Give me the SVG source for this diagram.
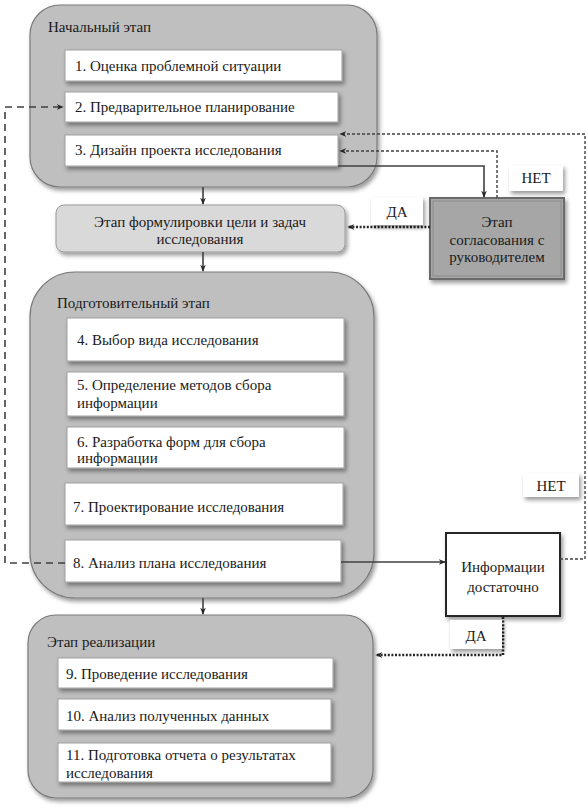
<svg xmlns="http://www.w3.org/2000/svg" width="588" height="811" viewBox="0 0 588 811">
<style>
text{font-family:"Liberation Serif","Times New Roman",serif;font-size:15px;fill:#1a1a1a}
.c{text-anchor:middle}
.grp{fill:#bfbfbf;stroke:#7a7a7a;stroke-width:1.2}
.box{fill:#fff;stroke:#a0a0a0;stroke-width:1}
.lbl{fill:#fff;stroke:none}
.ln{fill:none;stroke:#404040;stroke-width:1.6}
.dash1{fill:none;stroke:#404040;stroke-width:1.6;stroke-dasharray:7 5}
.dash2{fill:none;stroke:#404040;stroke-width:1.4;stroke-dasharray:3 2}
.dot{fill:none;stroke:#262626;stroke-width:2.6;stroke-dasharray:2 1.6}
</style>
<defs>
<filter id="sh" x="-10%" y="-10%" width="130%" height="140%">
<feDropShadow dx="2" dy="3" stdDeviation="2" flood-color="#000" flood-opacity="0.4"/>
</filter>
<marker id="ar" viewBox="0 0 10 10" refX="9" refY="5" markerWidth="7" markerHeight="7" orient="auto" markerUnits="userSpaceOnUse">
<path d="M0,1 L10,5 L0,9 L3,5 Z" fill="#262626"/>
</marker>
</defs>

<g id="stage-initial">
<rect class="grp" x="30" y="5" width="347" height="182" rx="30" filter="url(#sh)"/>
<text x="48" y="32">Начальный этап</text>
</g>
<g id="step1"><rect class="box" x="65" y="50" width="277" height="31" filter="url(#sh)"/><text x="75" y="71">1. Оценка проблемной ситуации</text></g>
<g id="step2"><rect class="box" x="65" y="92" width="273" height="30" filter="url(#sh)"/><text x="75" y="112">2. Предварительное планирование</text></g>
<g id="step3"><rect class="box" x="65" y="135" width="273" height="31" filter="url(#sh)"/><text x="75" y="155">3. Дизайн проекта исследования</text></g>

<g id="stage-goals">
<rect x="56" y="205" width="289" height="47" rx="8" fill="#d9d9d9" stroke="#9a9a9a" stroke-width="1" filter="url(#sh)"/>
<text class="c" x="200" y="227">Этап формулировки цели и задач</text>
<text class="c" x="200" y="244">исследования</text>
</g>

<g id="stage-approval">
<rect x="430" y="198" width="134" height="81" fill="#a6a6a6" stroke="#6a6a6a" stroke-width="2" filter="url(#sh)"/>
<rect x="433" y="201" width="128" height="75" fill="none" stroke="#8c8c8c" stroke-width="1"/>
<text class="c" x="497" y="227">Этап</text>
<text class="c" x="497" y="245">согласования с</text>
<text class="c" x="497" y="262">руководителем</text>
</g>

<g id="stage-prep">
<rect class="grp" x="30" y="272" width="344" height="326" rx="45" filter="url(#sh)"/>
<text x="57" y="308">Подготовительный этап</text>
</g>
<g id="step4"><rect class="box" x="67" y="318" width="277" height="43" filter="url(#sh)"/><text x="77" y="345">4. Выбор вида исследования</text></g>
<g id="step5"><rect class="box" x="67" y="372" width="277" height="44" filter="url(#sh)"/><text x="77" y="390">5. Определение методов сбора</text><text x="77" y="408">информации</text></g>
<g id="step6"><rect class="box" x="67" y="427" width="277" height="41" filter="url(#sh)"/><text x="77" y="447">6. Разработка форм для сбора</text><text x="77" y="463">информации</text></g>
<g id="step7"><rect class="box" x="65" y="483" width="278" height="42" filter="url(#sh)"/><text x="73" y="512">7. Проектирование исследования</text></g>
<g id="step8"><rect class="box" x="65" y="540" width="276" height="42" filter="url(#sh)"/><text x="73" y="568">8. Анализ плана исследования</text></g>

<g id="decision">
<rect x="446" y="533" width="114" height="83" fill="#fff" stroke="#262626" stroke-width="2" filter="url(#sh)"/>
<text class="c" x="503" y="572">Информации</text>
<text class="c" x="503" y="592">достаточно</text>
</g>

<g id="stage-impl">
<rect class="grp" x="28" y="615" width="345" height="183" rx="28" filter="url(#sh)"/>
<text x="47" y="647">Этап реализации</text>
</g>
<g id="step9"><rect class="box" x="58" y="658" width="275" height="30" filter="url(#sh)"/><text x="66" y="679">9. Проведение исследования</text></g>
<g id="step10"><rect class="box" x="58" y="699" width="273" height="31" filter="url(#sh)"/><text x="66" y="721">10. Анализ полученных данных</text></g>
<g id="step11"><rect class="box" x="58" y="743" width="273" height="39" filter="url(#sh)"/><text x="66" y="760">11. Подготовка отчета о результатах</text><text x="66" y="778">исследования</text></g>

<g id="connectors">
<path class="ln" d="M203,187 V204" marker-end="url(#ar)"/>
<path class="ln" d="M203,252 V271" marker-end="url(#ar)"/>
<path class="ln" d="M203,598 V614" marker-end="url(#ar)"/>
<path class="ln" d="M338,166 H484 V197" marker-end="url(#ar)"/>
<path class="ln" d="M341,562 H445" marker-end="url(#ar)"/>
<path class="dash2" d="M497,198 V151 H340" marker-end="url(#ar)"/>
<path class="dash2" d="M560,559 H585 V134 H340" marker-end="url(#ar)"/>
<path class="dash1" d="M65,563 H5 V107 H63" marker-end="url(#ar)"/>
<path class="dot" d="M430,227 H348" marker-end="url(#ar)"/>
<path class="dot" d="M503,617 V655 H376" marker-end="url(#ar)"/>
</g>

<g id="label-no1"><rect class="lbl" x="509" y="165" width="54" height="26" filter="url(#sh)"/><text class="c" x="536" y="183">НЕТ</text></g>
<g id="label-yes1"><rect class="lbl" x="371" y="197" width="52" height="28" filter="url(#sh)"/><text class="c" x="397" y="217">ДА</text></g>
<g id="label-no2"><rect class="lbl" x="523" y="473" width="56" height="24" filter="url(#sh)"/><text class="c" x="551" y="491">НЕТ</text></g>
<g id="label-yes2"><rect class="lbl" x="450" y="620" width="52" height="29" filter="url(#sh)"/><text class="c" x="476" y="641">ДА</text></g>
</svg>
